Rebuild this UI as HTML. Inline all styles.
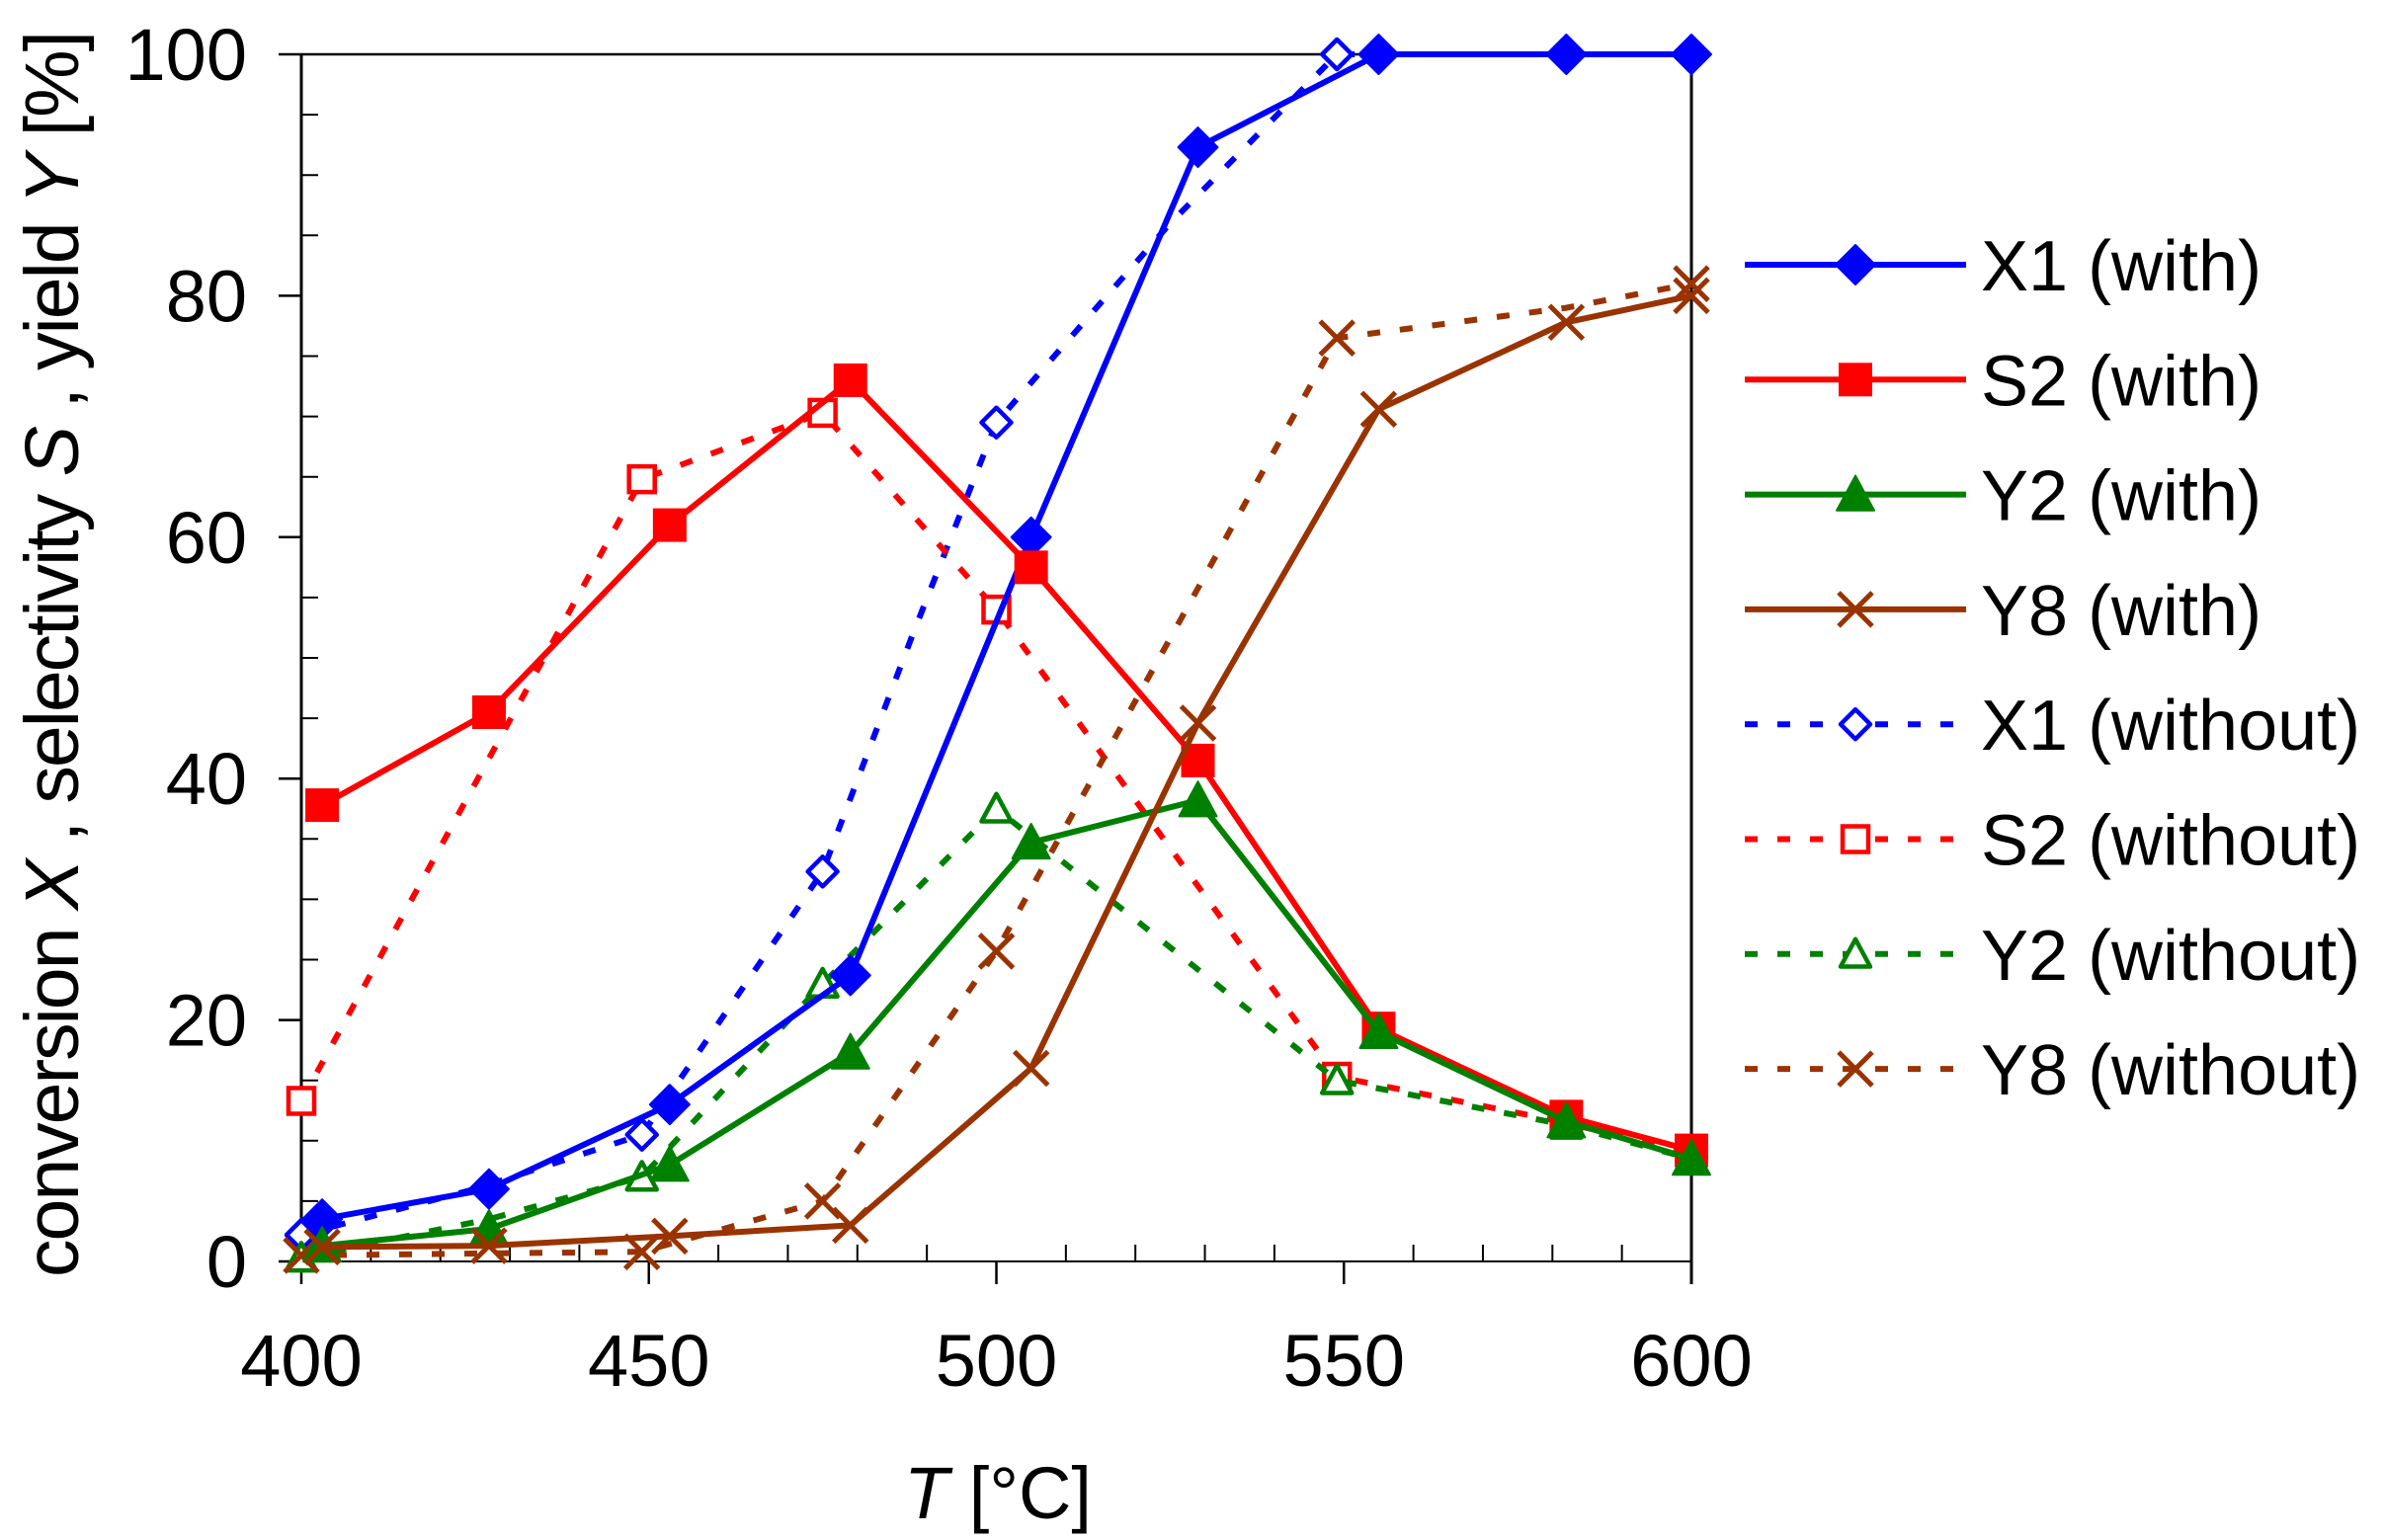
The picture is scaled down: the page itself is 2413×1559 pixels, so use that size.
<!DOCTYPE html>
<html><head><meta charset="utf-8"><style>
html,body{margin:0;padding:0;background:#fff;}
svg{display:block;font-family:"Liberation Sans",Arial,sans-serif;}
</style></head><body>
<svg id="s" xmlns="http://www.w3.org/2000/svg" width="2413" height="1559" viewBox="0 0 2413 1559">
<rect width="2413" height="1559" fill="#fff"/>
<g id="axes"></g>
<g id="series"></g>
<g id="legend"></g>
<text x="79" y="662" transform="rotate(-90 79 662)" text-anchor="middle" font-size="77" textLength="1262" lengthAdjust="spacing">conversion <tspan font-style="italic">X</tspan> ,  selectivity <tspan font-style="italic">S</tspan> ,  yield <tspan font-style="italic">Y</tspan>  [%]</text>
<text x="1010" y="1537" text-anchor="middle" font-size="74"><tspan font-style="italic">T</tspan>  [°C]</text>
</svg>
<script>
const NS="http://www.w3.org/2000/svg";
const X=t=>305+(t-400)*7.035, Y=v=>1277-v*12.22;
function el(p,tag,a,txt){const e=document.createElementNS(NS,tag);for(const k in a)e.setAttribute(k,a[k]);if(txt!==undefined)e.textContent=txt;p.appendChild(e);return e;}
const ax=document.getElementById('axes'),sr=document.getElementById('series'),lg=document.getElementById('legend');
el(ax,'line',{x1:305,y1:55,x2:1712,y2:55,stroke:'#000','stroke-width':2.5});
el(ax,'line',{x1:305,y1:1277,x2:1712,y2:1277,stroke:'#000','stroke-width':2});
el(ax,'line',{x1:305,y1:55,x2:305,y2:1277,stroke:'#000','stroke-width':3});
el(ax,'line',{x1:1712,y1:55,x2:1712,y2:1300,stroke:'#000','stroke-width':3});
for(let v=0;v<=100;v+=5){const y=Y(v);
 if(v%20==0){el(ax,'line',{x1:282,y1:y,x2:305,y2:y,stroke:'#000','stroke-width':2.5});
  el(ax,'text',{x:250,y:y+26,'text-anchor':'end','font-size':74},String(v));}
 else el(ax,'line',{x1:305,y1:y,x2:322,y2:y,stroke:'#000','stroke-width':2});}
for(let t=400;t<=600;t+=10){const x=X(t);
 if(t%50==0){el(ax,'line',{x1:x,y1:1277,x2:x,y2:1300,stroke:'#000','stroke-width':2.5});
  el(ax,'text',{x:x,y:1403,'text-anchor':'middle','font-size':74},String(t));}
 else el(ax,'line',{x1:x,y1:1260,x2:x,y2:1277,stroke:'#000','stroke-width':2});}
const B='#0000FF',R='#FF0000',G='#008000',Br='#993300';
const S=[
 {n:'X1 (with)',c:B,m:'D',f:1,d:[[403,3.5],[427,6],[453,13],[479,23.7],[505,60],[529,92.3],[555,100],[582,100],[600,100]]},
 {n:'S2 (with)',c:R,m:'S',f:1,d:[[403,37.8],[427,45.5],[453,61],[479,73],[505,57.5],[529,41.5],[555,19.3],[582,12],[600,9.2]]},
 {n:'Y2 (with)',c:G,m:'T',f:1,d:[[403,1.3],[427,2.7],[453,8],[479,17.3],[505,34.7],[529,38.2],[555,19],[582,11.6],[600,8.5]]},
 {n:'Y8 (with)',c:Br,m:'X',f:1,d:[[403,1.2],[427,1.3],[453,2.1],[479,3],[505,16],[529,44.6],[555,70.6],[582,77.8],[600,80]]},
 {n:'X1 (without)',c:B,m:'D',f:0,d:[[400,2.2],[425,6],[449,10.5],[475,32.3],[488,52],[500,69.5],[525,86],[549,100],[600,100]]},
 {n:'S2 (without)',c:R,m:'S',f:0,d:[[400,13.3],[449,64.8],[475,70.3],[500,54],[549,15.3],[582,11.5],[600,8.8]]},
 {n:'Y2 (without)',c:G,m:'T',f:0,d:[[400,0.3],[427,3.5],[449,7],[475,23],[500,37.5],[549,15],[582,11.3],[600,8.5]]},
 {n:'Y8 (without)',c:Br,m:'X',f:0,d:[[400,0.5],[449,0.8],[475,5],[500,25.7],[549,76.5],[582,79],[600,81]]}];
function marker(p,m,x,y,c,filled){
 const sw=filled?2:4.5,fill=filled?c:'#fff';
 if(m=='D'){const h=filled?20:15;el(p,'polygon',{points:`${x},${y-h} ${x+h},${y} ${x},${y+h} ${x-h},${y}`,fill,stroke:c,'stroke-width':sw,'stroke-linejoin':'round'});}
 else if(m=='S'){const h=filled?16:13;el(p,'rect',{x:x-h,y:y-h,width:2*h,height:2*h,fill,stroke:c,'stroke-width':sw});}
 else if(m=='T'){const h=filled?19:15;el(p,'polygon',{points:`${x},${y-h} ${x+h},${y+h*0.85} ${x-h},${y+h*0.85}`,fill,stroke:c,'stroke-width':sw,'stroke-linejoin':'round'});}
 else {const h=17;el(p,'path',{d:`M${x-h},${y-h}L${x+h},${y+h}M${x-h},${y+h}L${x+h},${y-h}`,stroke:c,'stroke-width':5,fill:'none'});}
}
[4,5,6,7,0,1,2,3].forEach(i=>{const s=S[i];const p=s.d.map(q=>[X(q[0]),Y(q[1])]);
 const pts=p.map(q=>q.join(',')).join(' ');
 if(s.f) el(sr,'polyline',{points:pts,fill:'none',stroke:s.c,'stroke-width':6,'stroke-linejoin':'round'});
 else el(sr,'polyline',{points:pts,fill:'none',stroke:s.c,'stroke-width':6,'stroke-dasharray':'13 20','stroke-linejoin':'round'});
 const keep={4:[400,449,475,500,549],6:[400,449,475,500,549,582,600],7:[400,449,475,500,549,600]}[i];
 s.d.forEach((q,j)=>{if(keep&&keep.indexOf(q[0])<0)return;marker(sr,s.m,p[j][0],p[j][1],s.c,s.f);});});
S.forEach((s,i)=>{const y=268+i*116.3;
 if(s.f) el(lg,'line',{x1:1766,y1:y,x2:1990,y2:y,stroke:s.c,'stroke-width':6});
 else el(lg,'line',{x1:1766,y1:y,x2:1990,y2:y,stroke:s.c,'stroke-width':6,'stroke-dasharray':'13 20'});
 marker(lg,s.m,1878,y,s.c,s.f);
 el(lg,'text',{x:2005,y:y+26,'font-size':72},s.n);});
</script>
</body></html>
